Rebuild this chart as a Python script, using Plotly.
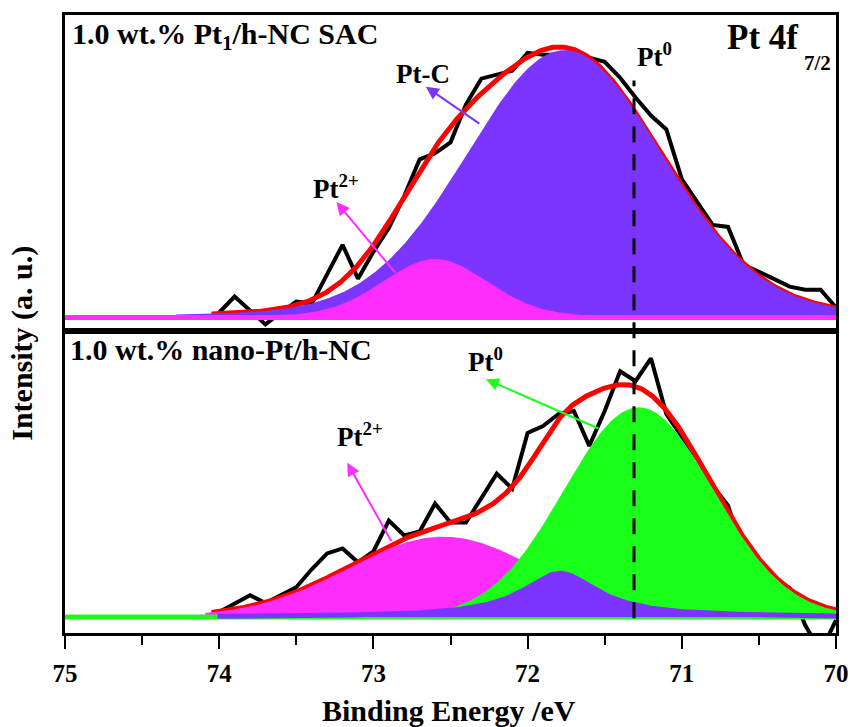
import numpy as np
import plotly.graph_objects as go

# Measured Pt 4f7/2 spectra, binding energy in eV (0.1 eV steps)
ENERGY = [74.0, 73.9, 73.8, 73.7, 73.6, 73.5, 73.4, 73.3, 73.2, 73.1,
          73.0, 72.9, 72.8, 72.7, 72.6, 72.5, 72.4, 72.3, 72.2, 72.1,
          72.0, 71.9, 71.8, 71.7, 71.6, 71.5, 71.4, 71.3, 71.2, 71.1,
          71.0, 70.9, 70.8, 70.7, 70.6, 70.5, 70.4, 70.3, 70.2, 70.1, 70.0]

# 1.0 wt.% Pt1/h-NC SAC (background subtracted, a.u.)
SAC_COUNTS = [5, 21, 7, -7, 5, 16, 14, 44, 73, 39,
              66, 90, 122, 159, 165, 176, 214, 240, 244, 248,
              266, 264, 264, 263, 261, 257, 241, 221, 203, 189,
              139, 116, 93, 91, 53, 46, 38, 31, 28, 28, 10]

# 1.0 wt.% nano-Pt/h-NC (background subtracted, a.u.)
NANO_COUNTS = [5, 14, 22, 14, 22, 30, 48, 64, 69, 55,
               66, 97, 82, 86, 114, 95, 95, 119, 144, 129,
               185, 192, 204, 207, 172, 207, 247, 237, 260, 204,
               182, 159, 132, 112, 64, 52, 38, 29, -8, -35, -3]

# Fitted components (pseudo-Voigt: HWHM in eV, Lorentzian fraction)
SAC_NAMES = ["Pt-C", "Pt2+"]
SAC_CENTER = [71.76, 72.60]
SAC_HEIGHT = [268, 58]
SAC_HWHM = [0.75, 0.40]
SAC_LFRAC = [0.1, 0.1]
SAC_START = [74.28, 75.0]
SAC_FIT_START = 74.05

NANO_NAMES = ["Pt2+", "Pt0", "Pt-C"]
NANO_CENTER = [72.55, 71.28, 71.79]
NANO_HEIGHT = [80, 210, 44]
NANO_HWHM = [0.72, 0.565, 0.30]
NANO_LFRAC = [0.0, 0.0, 1.0]
NANO_START = [74.09, 75.0, 74.01]
NANO_FIT_START = 74.05

PT0_ENERGY = 71.31
E_MIN, E_MAX = 70.0, 75.0

PURPLE = "#7B35FF"
MAGENTA = "#FF2EFF"
GREEN = "#1AFF1A"
RED = "#FF0000"
FONT = "Liberation Serif"


def pseudo_voigt(e, center, height, hwhm, lfrac):
    u2 = ((e - center) / hwhm) ** 2
    return height * ((1 - lfrac) * np.exp(-np.log(2) * u2) + lfrac / (1 + u2))


def component(i, center, height, hwhm, lfrac, start):
    e = np.linspace(start, E_MIN, 400)
    return e, pseudo_voigt(e, center[i], height[i], hwhm[i], lfrac[i])


def envelope(center, height, hwhm, lfrac, start):
    e = np.linspace(start, E_MIN, 500)
    total = sum(pseudo_voigt(e, c, h, w, l) for c, h, w, l in zip(center, height, hwhm, lfrac))
    return e, total


fig = go.Figure()

# ---- upper panel: single-atom catalyst ----
fig.add_trace(go.Scatter(x=ENERGY, y=SAC_COUNTS, mode="lines", xaxis="x2", yaxis="y2",
                         line=dict(color="black", width=4), showlegend=False))
e, fit = envelope(SAC_CENTER, SAC_HEIGHT, SAC_HWHM, SAC_LFRAC, SAC_FIT_START)
fig.add_trace(go.Scatter(x=e, y=fit, mode="lines", xaxis="x2", yaxis="y2",
                         line=dict(color=RED, width=5), showlegend=False))
for i, col in [(0, PURPLE), (1, MAGENTA)]:
    e, y = component(i, SAC_CENTER, SAC_HEIGHT, SAC_HWHM, SAC_LFRAC, SAC_START[i])
    fig.add_trace(go.Scatter(x=e, y=y, mode="lines", xaxis="x2", yaxis="y2", fill="tozeroy",
                             fillcolor=col, line=dict(color=col, width=1.5),
                             name=SAC_NAMES[i], showlegend=False))
fig.add_trace(go.Scatter(x=[E_MAX, E_MIN], y=[0, 0], mode="lines", xaxis="x2", yaxis="y2",
                         line=dict(color=MAGENTA, width=5), showlegend=False))

# ---- lower panel: nanoparticles ----
fig.add_trace(go.Scatter(x=ENERGY, y=NANO_COUNTS, mode="lines", xaxis="x", yaxis="y",
                         line=dict(color="black", width=4), showlegend=False))
e, fit = envelope(NANO_CENTER, NANO_HEIGHT, NANO_HWHM, NANO_LFRAC, NANO_FIT_START)
fig.add_trace(go.Scatter(x=e, y=fit, mode="lines", xaxis="x", yaxis="y",
                         line=dict(color=RED, width=5), showlegend=False))
for i, col in [(0, MAGENTA), (1, GREEN)]:
    e, y = component(i, NANO_CENTER, NANO_HEIGHT, NANO_HWHM, NANO_LFRAC, NANO_START[i])
    fig.add_trace(go.Scatter(x=e, y=y, mode="lines", xaxis="x", yaxis="y", fill="tozeroy",
                             fillcolor=col, line=dict(color=col, width=1.5),
                             name=NANO_NAMES[i], showlegend=False))
fig.add_trace(go.Scatter(x=[E_MAX, E_MIN], y=[0, 0], mode="lines", xaxis="x", yaxis="y",
                         line=dict(color=GREEN, width=5), showlegend=False))
e, y = component(2, NANO_CENTER, NANO_HEIGHT, NANO_HWHM, NANO_LFRAC, NANO_START[2])
fig.add_trace(go.Scatter(x=e, y=y, mode="lines", xaxis="x", yaxis="y", fill="tozeroy",
                         fillcolor=PURPLE, line=dict(color=PURPLE, width=5),
                         name=NANO_NAMES[2], showlegend=False))

BOTTOM_FRAC = 0.488
axis_line = dict(showline=True, linecolor="black", linewidth=2.5, mirror=True,
                 showgrid=False, zeroline=False)

fig.update_layout(
    width=861, height=727,
    margin=dict(l=65, r=13, t=12, b=94),
    paper_bgcolor="white", plot_bgcolor="white",
    font=dict(family=FONT, color="black", size=25, weight="bold"),
    xaxis=dict(domain=[0, 1], anchor="y", range=[E_MAX, E_MIN], dtick=1,
               ticks="outside", ticklen=13, tickwidth=2, tickcolor="black",
               ticklabelstandoff=3,
               tickfont=dict(family=FONT, size=25, color="black", weight="bold"),
               minor=dict(dtick=0.5, ticks="outside", ticklen=9, tickwidth=2, tickcolor="black"),
               **axis_line),
    xaxis2=dict(domain=[0, 1], anchor="y2", matches="x", range=[E_MAX, E_MIN],
                showticklabels=False, ticks="", **axis_line),
    yaxis=dict(domain=[0, BOTTOM_FRAC], anchor="x", range=[-16, 287],
               showticklabels=False, ticks="", **axis_line),
    yaxis2=dict(domain=[BOTTOM_FRAC, 1], anchor="x2", range=[-14, 304],
                showticklabels=False, ticks="", **axis_line),
)

# Pt0 reference position across both panels
fig.add_shape(type="line", xref="x", yref="paper", x0=PT0_ENERGY, x1=PT0_ENERGY,
              y0=0.024, y1=0.894, line=dict(color="black", width=3, dash="16px,12px"))

label_font = dict(family=FONT, size=30, color="black", weight="bold")
peak_font = dict(family=FONT, size=27, color="black", weight="bold")

fig.add_annotation(text="1.0 wt.% Pt<sub>1</sub>/h-NC SAC", xref="paper", yref="paper",
                   x=0.007, y=0.966, xanchor="left", yanchor="middle", showarrow=False,
                   font=label_font)
fig.add_annotation(text="1.0 wt.% nano-Pt/h-NC", xref="paper", yref="paper",
                   x=0.004, y=0.459, xanchor="left", yanchor="middle", showarrow=False,
                   font=label_font)
fig.add_annotation(text="Pt 4f", xref="paper", yref="paper",
                   x=0.953, y=0.964, xanchor="right", yanchor="middle", showarrow=False,
                   font=dict(family=FONT, size=35, color="black", weight="bold"))
fig.add_annotation(text="7/2", xref="paper", yref="paper",
                   x=0.996, y=0.923, xanchor="right", yanchor="middle", showarrow=False,
                   font=dict(family=FONT, size=21, color="black", weight="bold"))

# peak labels
fig.add_annotation(text="Pt-C", x=72.68, y=245, xref="x2", yref="y2", showarrow=False, font=peak_font)
fig.add_annotation(text="Pt<sup>2+</sup>", x=73.24, y=131, xref="x2", yref="y2", showarrow=False, font=peak_font)
fig.add_annotation(text="Pt<sup>0</sup>", x=71.18, y=264, xref="x2", yref="y2", showarrow=False, font=peak_font)
fig.add_annotation(text="Pt<sup>0</sup>", x=72.27, y=258, xref="x", yref="y", showarrow=False, font=peak_font)
fig.add_annotation(text="Pt<sup>2+</sup>", x=73.09, y=183, xref="x", yref="y", showarrow=False, font=peak_font)

# arrows pointing from components to their labels
arrows = [("x2", "y2", 72.66, 232, 55, 38, PURPLE),
          ("x2", "y2", 73.24, 116, 60, 72, MAGENTA),
          ("x", "y", 72.27, 239, 114, 50, GREEN),
          ("x", "y", 73.17, 155, 45, 80, MAGENTA)]
for xr, yr, xh, yh, ax, ay, col in arrows:
    fig.add_annotation(text="", x=xh, y=yh, xref=xr, yref=yr, ax=ax, ay=ay,
                       axref="pixel", ayref="pixel", showarrow=True,
                       arrowhead=2, arrowsize=1.3, arrowwidth=2, arrowcolor=col)

# axis titles
fig.add_annotation(text="Binding Energy /eV", xref="paper", yref="paper", x=0.498, y=-0.126,
                   xanchor="center", yanchor="middle", showarrow=False,
                   font=dict(family=FONT, size=30, color="black", weight="bold"))
fig.add_annotation(text="Intensity (a. u.)", xref="paper", yref="paper", x=-0.055, y=0.469,
                   xanchor="center", yanchor="middle", textangle=-90, showarrow=False,
                   font=dict(family=FONT, size=30, color="black", weight="bold"))

fig.write_html("out.html")
